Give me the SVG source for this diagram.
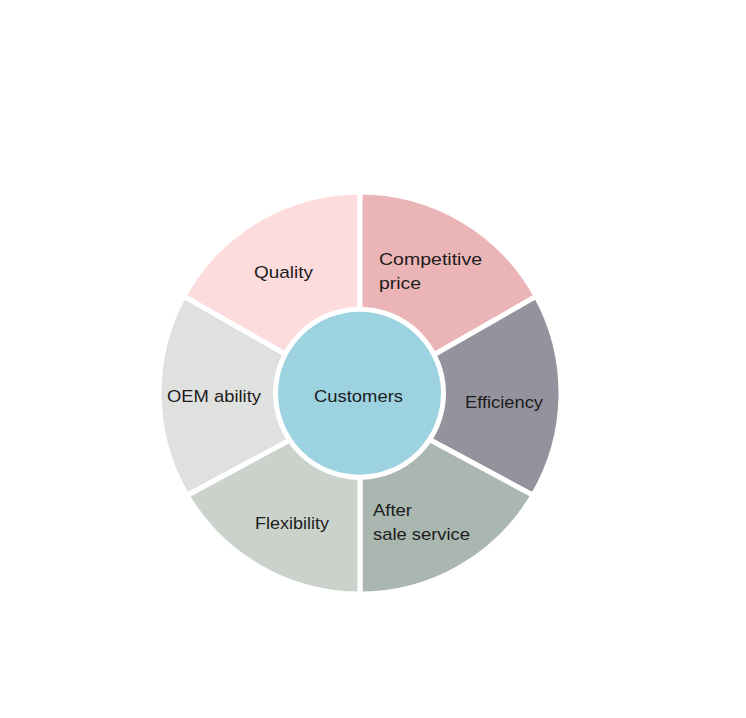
<svg xmlns="http://www.w3.org/2000/svg" width="746" height="718" viewBox="0 0 746 718">
<style>
.seg{stroke:#ffffff;stroke-width:5;stroke-linejoin:miter}
.lbl{font-family:"Liberation Sans",Arial,sans-serif;font-size:17px;fill:#1c1c1c}
</style>
<rect x="0" y="0" width="746" height="718" fill="#ffffff"/>
<g id="quality">
<path class="seg" fill="#fcdcdc" d="M360,397 L183.8,296.3 A201,201 0 0 1 360,192 Z"/>
<text class="lbl" x="254" y="278" textLength="59" lengthAdjust="spacingAndGlyphs">Quality</text>
</g>
<g id="competitive-price">
<path class="seg" fill="#ebb4b6" d="M360,397 L360,192 A201,201 0 0 1 536.2,296.3 Z"/>
<text class="lbl" x="379" y="265" textLength="103" lengthAdjust="spacingAndGlyphs">Competitive</text>
<text class="lbl" x="379" y="289" textLength="42" lengthAdjust="spacingAndGlyphs">price</text>
</g>
<g id="efficiency">
<path class="seg" fill="#94929c" d="M360,397 L536.2,296.3 A201,201 0 0 1 533,495.3 L360,402.3 Z"/>
<text class="lbl" x="465" y="408" textLength="78" lengthAdjust="spacingAndGlyphs">Efficiency</text>
</g>
<g id="after-sale-service">
<path class="seg" fill="#aab6b0" d="M360,402.3 L533,495.3 A201,201 0 0 1 360,594 Z"/>
<text class="lbl" x="373" y="516" textLength="39" lengthAdjust="spacingAndGlyphs">After</text>
<text class="lbl" x="373" y="540" textLength="97" lengthAdjust="spacingAndGlyphs">sale service</text>
</g>
<g id="flexibility">
<path class="seg" fill="#cbd2cc" d="M360,402.3 L360,594 A201,201 0 0 1 187,495.3 Z"/>
<text class="lbl" x="255" y="529" textLength="74" lengthAdjust="spacingAndGlyphs">Flexibility</text>
</g>
<g id="oem-ability">
<path class="seg" fill="#dfe1df" d="M360,402.3 L187,495.3 A201,201 0 0 1 183.8,296.3 L360,397 Z"/>
<text class="lbl" x="167" y="402" textLength="94" lengthAdjust="spacingAndGlyphs">OEM ability</text>
</g>
<g id="customers">
<circle cx="359.5" cy="393.3" r="84" fill="#9dd3e1" stroke="#ffffff" stroke-width="5"/>
<text class="lbl" x="314" y="402" textLength="89" lengthAdjust="spacingAndGlyphs">Customers</text>
</g>
<g id="connectors"></g>
</svg>
